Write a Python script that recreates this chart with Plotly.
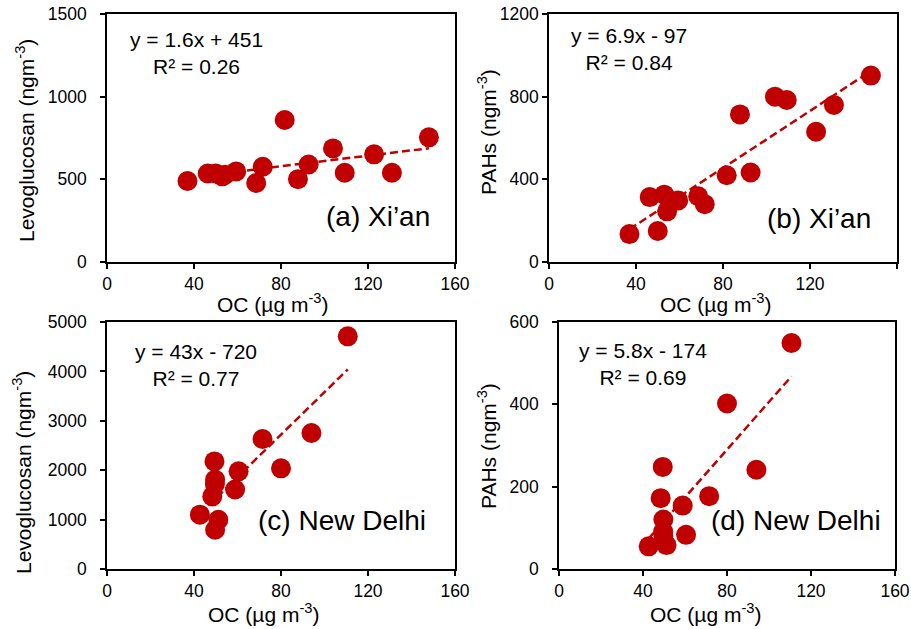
import plotly.graph_objects as go

# ---- data ----
xian_oc = [37, 46.3, 50, 53, 54.3, 59.4, 68.6, 71.6, 81.7, 87.8, 92.7, 103.9, 109.3, 122.8, 131, 148]
xian_levo = [490, 535, 536, 518, 528, 548, 478, 576, 859, 501, 590, 687, 540, 651, 540, 754]
xian_pahs = [135, 314, 150, 326, 245, 298, 318, 280, 420, 714, 433, 800, 784, 630, 760, 902]

delhi_oc = [42.7, 48.4, 49.4, 49.7, 49.6, 49.7, 51.2, 58.9, 60.5, 71.5, 80, 94, 110.7]
delhi_levo = [1100, 1470, 2178, 1808, 1720, 795, 998, 1610, 1977, 2632, 2038, 2753, 4710]
delhi_pahs = [55, 172, 248, 120, 91, 80, 58, 154, 83, 177, 402, 241, 549]

# trend line coefficients (slope, intercept) as shown on the chart
fit_a = (1.6, 451)
fit_b = (6.9, -97)
fit_c = (43, -720)
fit_d = (5.8, -174)

eq_a = "y = 1.6x + 451<br>R² = 0.26"
eq_b = "y = 6.9x - 97<br>R² = 0.84"
eq_c = "y = 43x - 720<br>R² = 0.77"
eq_d = "y = 5.8x - 174<br>R² = 0.69"

labels = ["(a) Xi’an", "(b) Xi’an", "(c) New Delhi", "(d) New Delhi"]
ytitles = ["Levoglucosan (ngm<sup>-3</sup>)", "PAHs (ngm<sup>-3</sup>)",
           "Levoglucosan (ngm<sup>-3</sup>)", "PAHs (ngm<sup>-3</sup>)"]
yranges = [(0, 1500, 500), (0, 1200, 400), (0, 5000, 1000), (0, 600, 200)]
xtitle = "OC (µg m<sup>-3</sup>)"

W, H = 911, 629
RED = "#C00000"
FONT = "Liberation Sans, Arial, sans-serif"

# layout (pixels): panel boxes (left, right, top, bottom) and text anchor positions
boxes = [(107, 455, 14, 262), (549, 897, 14, 262), (107, 455, 322, 569), (559, 895, 322, 569)]
eq_pos = [(196, 53), (629, 49), (196, 365), (643, 364)]
lab_pos = [(432, 217), (873, 218), (428, 520), (883, 520)]
ytitle_pos = [(25, 141), (487, 132), (22, 473), (487, 446)]
xtitle_pos = [(273, 303), (716, 303), (264, 613), (706, 613)]
ytick_standoff = [10, 0, 10, 10]

panels = [
    (xian_oc, xian_levo, fit_a, eq_a),
    (xian_oc, xian_pahs, fit_b, eq_b),
    (delhi_oc, delhi_levo, fit_c, eq_c),
    (delhi_oc, delhi_pahs, fit_d, eq_d),
]

def px(x, y):
    return x / W, 1 - y / H

fig = go.Figure()
annotations = []
layout = {}
for i, ((xs, ys, fit, eq), box) in enumerate(zip(panels, boxes)):
    n = i + 1
    xa = "x" if n == 1 else f"x{n}"
    ya = "y" if n == 1 else f"y{n}"
    l, r, t, b = box
    xmin, xmax = min(xs), max(xs)
    fig.add_trace(go.Scatter(x=[xmin, xmax], y=[fit[0] * xmin + fit[1], fit[0] * xmax + fit[1]],
                             mode="lines", line=dict(color=RED, width=2.5, dash="8px,4px"),
                             xaxis=xa, yaxis=ya, showlegend=False, hoverinfo="skip"))
    fig.add_trace(go.Scatter(x=xs, y=ys, mode="markers",
                             marker=dict(color=RED, size=20, line=dict(width=0)),
                             xaxis=xa, yaxis=ya, showlegend=False, cliponaxis=False))
    y0, y1, dy = yranges[i]
    axkw = dict(showline=True, linecolor="black", linewidth=1.5, mirror=True, ticks="outside",
                ticklen=5, tickwidth=1.5, tickcolor="black", showgrid=False, zeroline=False,
                automargin=False, tickfont=dict(family=FONT, size=17.5, color="black"))
    layout[("xaxis" if n == 1 else f"xaxis{n}")] = dict(
        domain=[l / W, r / W], range=[0, 160], dtick=40, tick0=0, anchor=ya, **axkw)
    layout[("yaxis" if n == 1 else f"yaxis{n}")] = dict(
        domain=[1 - b / H, 1 - t / H], range=[y0, y1], dtick=dy, tick0=0, anchor=xa,
        ticklabelstandoff=ytick_standoff[i], **axkw)
    ex, ey = px(*eq_pos[i])
    annotations.append(dict(xref="paper", yref="paper", x=ex, y=ey,
                            text=eq, showarrow=False, align="center", xanchor="center", yanchor="middle",
                            font=dict(family=FONT, size=21, color="black")))
    lx, ly = px(*lab_pos[i])
    annotations.append(dict(xref="paper", yref="paper", x=lx, y=ly,
                            text=labels[i], showarrow=False, xanchor="right", yanchor="middle",
                            font=dict(family=FONT, size=28, color="black")))
    tx, ty = px(*ytitle_pos[i])
    annotations.append(dict(xref="paper", yref="paper", x=tx, y=ty,
                            text=ytitles[i], showarrow=False, textangle=-90, xanchor="center",
                            yanchor="middle", font=dict(family=FONT, size=21, color="black")))
    qx, qy = px(*xtitle_pos[i])
    annotations.append(dict(xref="paper", yref="paper", x=qx, y=qy,
                            text=xtitle, showarrow=False, xanchor="center", yanchor="middle",
                            font=dict(family=FONT, size=21, color="black")))

fig.update_layout(width=W, height=H, margin=dict(l=0, r=0, t=0, b=0, autoexpand=False),
                  paper_bgcolor="white", plot_bgcolor="white",
                  annotations=annotations, **layout)
fig.write_html("out.html", config={"displayModeBar": False},
               post_script="document.body.style.margin='0';")
